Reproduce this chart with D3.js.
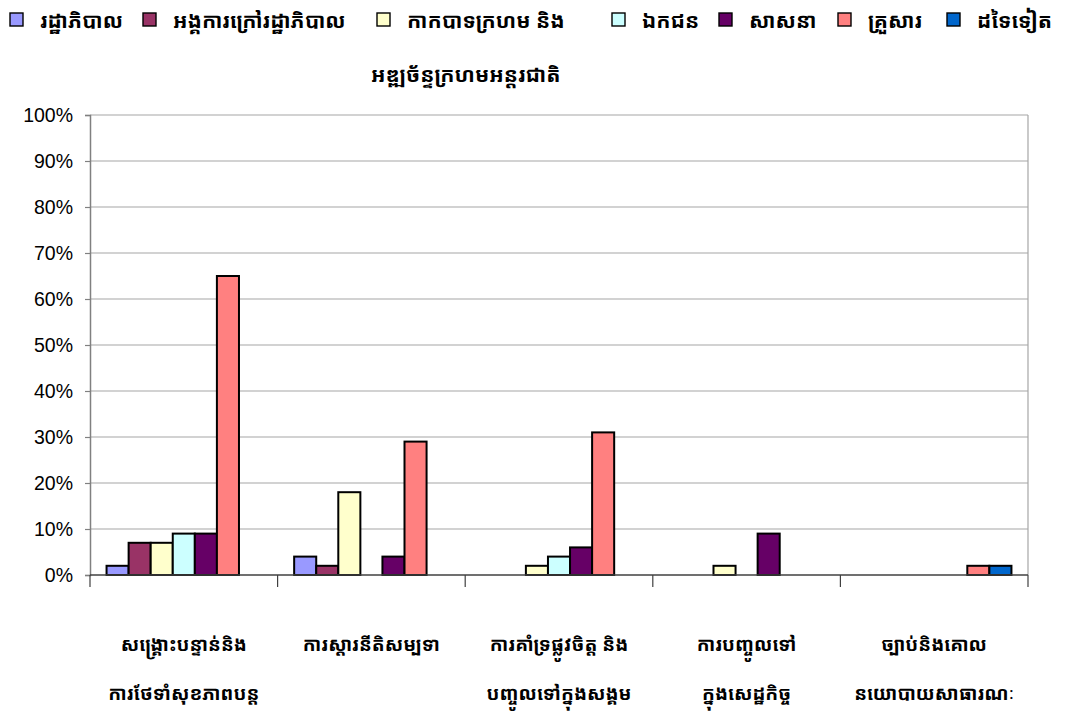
<!DOCTYPE html>
<html>
<head>
<meta charset="utf-8">
<script src="https://cdn.jsdelivr.net/npm/d3@7"></script>
<style>
  html, body { margin: 0; padding: 0; background: #fff; }
  svg { display: block; }
  .km { font-family: "Noto Sans Khmer", "Khmer OS", "Khmer OS System", "Noto Serif Khmer", "Noto Sans", sans-serif; font-weight: bold; }
  .tick text { font-family: Arial, "Liberation Sans", sans-serif; }
</style>
</head>
<body>
<script>
// Categories (two-line labels under the x axis)
const categories = [
  ["សង្គ្រោះបន្ទាន់និង", "ការថែទាំសុខភាពបន្ត"],
  ["ការស្តារនីតិសម្បទា"],
  ["ការគាំទ្រផ្លូវចិត្ត និង", "បញ្ចូលទៅក្នុងសង្គម"],
  ["ការបញ្ចូលទៅ", "ក្នុងសេដ្ឋកិច្ច"],
  ["ច្បាប់និងគោល", "នយោបាយសាធារណៈ"]
];

// Series names (legend)
const seriesNames = [
  ["រដ្ឋាភិបាល"],
  ["អង្គការក្រៅរដ្ឋាភិបាល"],
  ["កាកបាទក្រហម និង", "អឌ្ឍច័ន្ទក្រហមអន្តរជាតិ"],
  ["ឯកជន"],
  ["សាសនា"],
  ["គ្រួសារ"],
  ["ដទៃទៀត"]
];

const seriesColors = ["#9999FF", "#993366", "#FFFFCC", "#CCFFFF", "#660066", "#FF8080", "#0066CC"];

// Percent values: one array per series, one entry per category
const government    = [2, 4, 0, 0, 0];
const ngo           = [7, 2, 0, 0, 0];
const redCross      = [7, 18, 2, 2, 0];
const privateSector = [9, 0, 4, 0, 0];
const religion      = [9, 4, 6, 9, 0];
const family        = [65, 29, 31, 0, 2];
const others        = [0, 0, 0, 0, 2];
const seriesValues = [government, ngo, redCross, privateSector, religion, family, others];

const yTicks = [0, 10, 20, 30, 40, 50, 60, 70, 80, 90, 100];

const W = 1077, H = 719;
const plot = { left: 90, right: 1028, top: 115, bottom: 575 };

const svg = d3.select("body").append("svg").attr("width", W).attr("height", H);

const x0 = d3.scaleBand().domain(d3.range(categories.length))
  .range([plot.left, plot.right]).paddingInner(0).paddingOuter(0);
// Gap of 1.5 bar widths split on both sides of each group
const x1 = d3.scaleBand().domain(d3.range(seriesValues.length))
  .range([0, x0.bandwidth()]).paddingInner(0).paddingOuter(0.75);
const y = d3.scaleLinear().domain([0, 100]).range([plot.bottom, plot.top]);

// Horizontal gridlines
svg.append("g").selectAll("line").data(yTicks.filter(d => d > 0)).join("line")
  .attr("x1", plot.left).attr("x2", plot.right)
  .attr("y1", d => y(d)).attr("y2", d => y(d))
  .attr("stroke", "#A6A6A6").attr("stroke-width", 1.2);

// Right border of plot area
svg.append("line")
  .attr("x1", plot.right).attr("x2", plot.right)
  .attr("y1", plot.top).attr("y2", plot.bottom)
  .attr("stroke", "#A6A6A6").attr("stroke-width", 1.2);

// Y axis
const yAxis = d3.axisLeft(y).tickValues(yTicks).tickFormat(d => d + "%").tickSize(5).tickPadding(12);
const gy = svg.append("g").attr("transform", `translate(${plot.left},0)`).call(yAxis);
gy.select(".domain").attr("stroke", "#808080").attr("stroke-width", 1.5);
gy.selectAll(".tick line").attr("stroke", "#808080").attr("stroke-width", 1.2);
gy.selectAll(".tick text").attr("font-size", 19.5).attr("fill", "#000");

// Bars
const groups = svg.append("g").selectAll("g").data(categories).join("g")
  .attr("transform", (d, i) => `translate(${x0(i)},0)`);
groups.selectAll("rect")
  .data((d, ci) => seriesValues.map((vals, si) => ({ si, v: vals[ci] })).filter(b => b.v > 0))
  .join("rect")
  .attr("x", b => x1(b.si))
  .attr("width", x1.bandwidth())
  .attr("y", b => y(b.v))
  .attr("height", b => y(0) - y(b.v))
  .attr("fill", b => seriesColors[b.si])
  .attr("stroke", "#000").attr("stroke-width", 2);

// X axis line and category separators
svg.append("line")
  .attr("x1", plot.left).attr("x2", plot.right)
  .attr("y1", plot.bottom).attr("y2", plot.bottom)
  .attr("stroke", "#404040").attr("stroke-width", 1.5);
svg.append("g").selectAll("line").data(d3.range(categories.length + 1)).join("line")
  .attr("x1", i => i < categories.length ? x0(i) : plot.right)
  .attr("x2", i => i < categories.length ? x0(i) : plot.right)
  .attr("y1", plot.bottom).attr("y2", plot.bottom + 12)
  .attr("stroke", "#404040").attr("stroke-width", 1.2);

// Category labels
const catLabels = svg.append("g").selectAll("text").data(categories).join("text")
  .attr("class", "km")
  .attr("text-anchor", "middle")
  .attr("font-size", 19)
  .attr("fill", "#000");
catLabels.each(function(lines, i) {
  const t = d3.select(this);
  lines.forEach((ln, k) => {
    t.append("tspan").attr("x", x0(i) + x0.bandwidth() / 2).attr("y", 651 + k * 49).text(ln);
  });
});

// Legend
const legendX = [10, 143, 377, 612, 719, 838, 947];
const legend = svg.append("g").selectAll("g").data(seriesNames).join("g")
  .attr("transform", (d, i) => `translate(${legendX[i]},13)`);
legend.append("rect")
  .attr("width", 13).attr("height", 13)
  .attr("fill", (d, i) => seriesColors[i])
  .attr("stroke", "#000").attr("stroke-width", 1.4);
legend.append("text")
  .attr("class", "km")
  .attr("font-size", 21)
  .attr("fill", "#000")
  .each(function(lines) {
    const t = d3.select(this);
    t.append("tspan").attr("x", 30).attr("y", 15).text(lines[0]);
    if (lines[1]) t.append("tspan").attr("x", -6).attr("y", 69).text(lines[1]);
  });
</script>
</body>
</html>
